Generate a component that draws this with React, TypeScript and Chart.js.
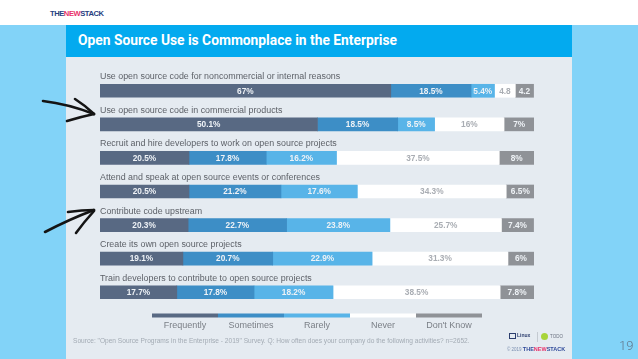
import React, { useEffect, useRef } from "react";
import { Chart, registerables } from "chart.js";

Chart.register(...registerables);

const categories = [
  "Use open source code for noncommercial or internal reasons",
  "Use open source code in commercial products",
  "Recruit and hire developers to work on open source projects",
  "Attend and speak at open source events or conferences",
  "Contribute code upstream",
  "Create its own open source projects",
  "Train developers to contribute to open source projects",
];
const seriesNames = ["Frequently", "Sometimes", "Rarely", "Never", "Don't Know"];
const frequently = [67, 50.1, 20.5, 20.5, 20.3, 19.1, 17.7];
const sometimes = [18.5, 18.5, 17.8, 21.2, 22.7, 20.7, 17.8];
const rarely = [5.4, 8.5, 16.2, 17.6, 23.8, 22.9, 18.2];
const never = [4.8, 16, 37.5, 34.3, 25.7, 31.3, 38.5];
const dontKnow = [4.2, 7, 8, 6.5, 7.4, 6, 7.8];
const seriesValues = [frequently, sometimes, rarely, never, dontKnow];
const seriesColors = ["#586983", "#3d8ec6", "#58b4e8", "#ffffff", "#8f9297"];
const valueTextColors = ["#eef2f6", "#eef2f6", "#eef2f6", "#a9adb3", "#eef2f6"];

const FONT = "'Liberation Sans', Arial, sans-serif";

const overlayPlugin = {
  id: "overlay",
  afterDatasetsDraw(chart: any) {
    const ctx = chart.ctx;
    const area = chart.chartArea;
    const xs = chart.scales.x;
    const base = xs.getPixelForValue(0);
    ctx.save();

    // category labels above each bar
    const meta0 = chart.getDatasetMeta(0);
    ctx.font = `8.9px ${FONT}`;
    ctx.fillStyle = "#5d6168";
    ctx.textAlign = "left";
    ctx.textBaseline = "alphabetic";
    meta0.data.forEach((el: any, i: number) => {
      const p = el.getProps(["y", "height"], true);
      ctx.fillText(chart.data.labels[i], base, p.y - p.height / 2 - 5);
    });

    // value labels inside segments
    ctx.font = `600 8.3px ${FONT}`;
    ctx.textAlign = "center";
    ctx.textBaseline = "middle";
    chart.data.datasets.forEach((ds: any, di: number) => {
      const meta = chart.getDatasetMeta(di);
      meta.data.forEach((el: any, i: number) => {
        const p = el.getProps(["x", "y", "base"], true);
        const v = ds.data[i];
        const w = Math.abs(p.x - p.base);
        const txt = w < 22 ? String(v) : `${v}%`;
        ctx.fillStyle = valueTextColors[di];
        ctx.fillText(txt, (p.x + p.base) / 2, p.y + 0.5);
      });
    });

    // legend: thick line segments with names beneath
    const segW = 66;
    const n = chart.data.datasets.length;
    const startX = (area.left + area.right) / 2 - (segW * n) / 2;
    const ly = area.bottom + 6.5;
    ctx.font = `9px ${FONT}`;
    chart.data.datasets.forEach((ds: any, di: number) => {
      const x0 = startX + di * segW;
      ctx.fillStyle = ds.backgroundColor;
      ctx.fillRect(x0, ly - 2, segW, 4);
      ctx.fillStyle = "#7a7f86";
      ctx.textAlign = "center";
      ctx.textBaseline = "middle";
      ctx.fillText(ds.label, x0 + segW / 2, ly + 10);
    });
    ctx.restore();
  },
};

function StackChart() {
  const ref = useRef<HTMLCanvasElement | null>(null);
  useEffect(() => {
    if (!ref.current) return;
    const chart = new Chart(ref.current, {
      type: "bar",
      data: {
        labels: categories,
        datasets: seriesNames.map((name, i) => ({
          label: name,
          data: seriesValues[i],
          backgroundColor: seriesColors[i],
          borderWidth: 0,
          barThickness: 13,
        })),
      },
      options: {
        indexAxis: "y",
        animation: false,
        responsive: false,
        devicePixelRatio: 1,
        layout: { padding: { left: 34, right: 38, top: 17, bottom: 50 } },
        plugins: { legend: { display: false }, tooltip: { enabled: false } },
        scales: {
          x: { stacked: true, min: 0, max: 100, display: false },
          y: { stacked: true, display: false },
        },
      },
      plugins: [overlayPlugin],
    } as any);
    return () => chart.destroy();
  }, []);
  return <canvas ref={ref} width={506} height={302} style={{ display: "block", width: 506, height: 302 }} />;
}

export default function App() {
  return (
    <div
      style={{
        position: "fixed",
        left: 0,
        top: 0,
        width: 638,
        height: 359,
        background: "#ffffff",
        overflow: "hidden",
        fontFamily: FONT,
      }}
    >
      {/* top logo */}
      <div
        style={{
          position: "absolute",
          left: 50,
          top: 9,
          fontFamily: "'Liberation Sans Narrow', 'Liberation Sans', Arial, sans-serif",
          fontWeight: 700,
          fontSize: 7.6,
          letterSpacing: -0.45,
          lineHeight: "9px",
          color: "#27407f",
        }}
      >
        THE<span style={{ color: "#e8336b" }}>NEW</span>STACK
      </div>
      {/* light blue band */}
      <div style={{ position: "absolute", left: 0, top: 25, width: 638, height: 334, background: "#82d3f8" }} />
      {/* title bar */}
      <div
        style={{
          position: "absolute",
          left: 66,
          top: 25,
          width: 506,
          height: 32,
          background: "#03aaef",
        }}
      >
        <div
          style={{
            position: "absolute",
            left: 12,
            top: 7,
            fontFamily: "Roboto, sans-serif",
            fontWeight: 700,
            fontSize: 13.8,
            lineHeight: "17px",
            color: "#ffffff",
            whiteSpace: "nowrap",
          }}
        >
          Open Source Use is Commonplace in the Enterprise
        </div>
      </div>
      {/* grey panel */}
      <div style={{ position: "absolute", left: 66, top: 57, width: 506, height: 302, background: "#e5ebf1" }}>
        <StackChart />
        <div
          style={{
            position: "absolute",
            left: 7,
            top: 280,
            fontSize: 6.6,
            lineHeight: "8px",
            color: "#a3abb4",
            whiteSpace: "nowrap",
          }}
        >
          Source: "Open Source Programs in the Enterprise - 2019" Survey. Q: How often does your company do the following activities? n=2652.
        </div>
        {/* small partner logos */}
        <div style={{ position: "absolute", left: 443, top: 276, width: 7, height: 6, border: "1.2px solid #2c3e6e", boxSizing: "border-box" }} />
        <div style={{ position: "absolute", left: 451, top: 275, fontSize: 5, fontWeight: 700, color: "#2c3e6e", lineHeight: "7px" }}>Linux</div>
        <div style={{ position: "absolute", left: 471, top: 275, width: 1, height: 10, background: "#c4cad1" }} />
        <div style={{ position: "absolute", left: 475, top: 276, width: 7, height: 7, borderRadius: 4, background: "#a8d43a" }} />
        <div style={{ position: "absolute", left: 484, top: 276, fontSize: 4.5, color: "#6b7280", lineHeight: "7px" }}>TODO</div>
        <div style={{ position: "absolute", left: 441, top: 289, fontSize: 4.5, color: "#7a8fb0", lineHeight: "6px", whiteSpace: "nowrap" }}>
          © 2019 <span style={{ fontWeight: 700, color: "#2f4a9a", fontSize: 5.5 }}>THE<span style={{ color: "#e8336b" }}>NEW</span>STACK</span>
        </div>
      </div>
      {/* page number */}
      <div
        style={{
          position: "absolute",
          left: 619,
          top: 339,
          fontFamily: "Roboto, sans-serif",
          fontWeight: 300,
          fontSize: 13,
          lineHeight: "14px",
          color: "#62768a",
        }}
      >
        19
      </div>
      {/* hand-drawn arrows */}
      <svg
        width={638}
        height={359}
        style={{ position: "absolute", left: 0, top: 0, pointerEvents: "none" }}
      >
        <g fill="none" stroke="#141414" strokeWidth={2.6} strokeLinecap="round" strokeLinejoin="round">
          <path d="M43 101 Q68 104 94 114" />
          <path d="M75 99 Q86 106 94 114" />
          <path d="M94 114 Q80 117 67 121" />
          <path d="M45 232 Q70 219 94 210" />
          <path d="M68 212 Q82 210 94 210" />
          <path d="M94 211 Q84 222 76 233" />
        </g>
      </svg>
    </div>
  );
}
